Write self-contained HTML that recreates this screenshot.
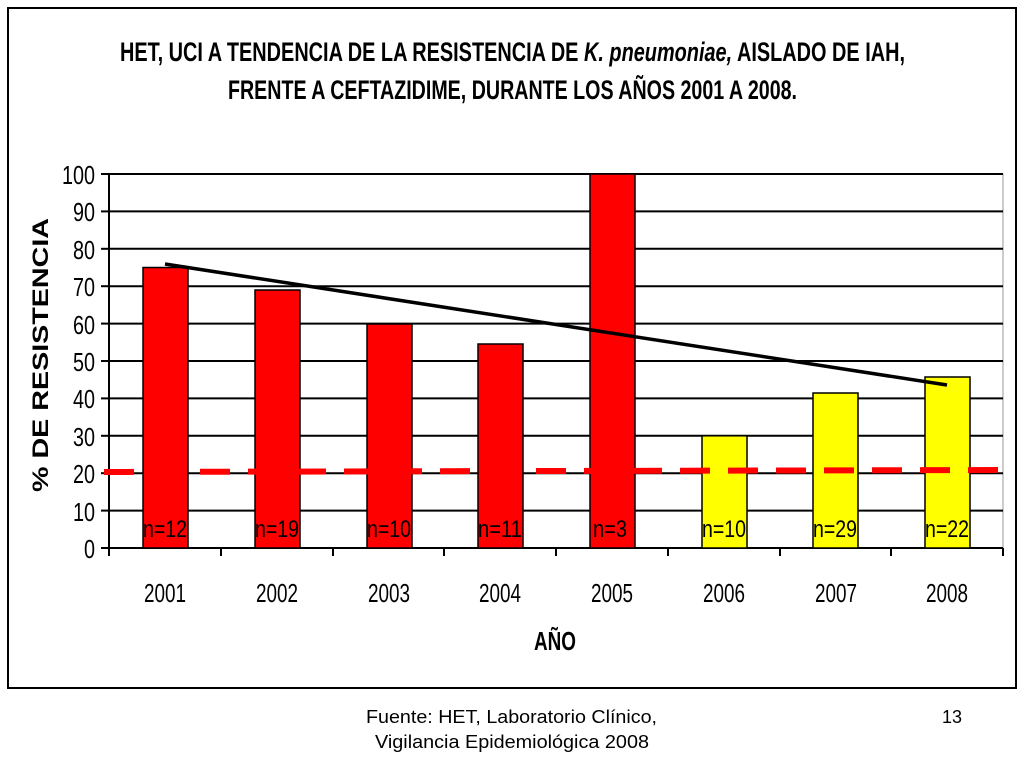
<!DOCTYPE html>
<html><head><meta charset="utf-8"><style>
body{margin:0;background:#fff;}
svg{display:block}
</style></head><body>
<svg width="1024" height="768" xmlns="http://www.w3.org/2000/svg" font-family="'Liberation Sans',sans-serif">
<rect x="8" y="8" width="1008" height="680" fill="#fff" stroke="#000" stroke-width="2"/>
<text x="120" y="61" font-size="27" font-weight="bold" textLength="785" lengthAdjust="spacingAndGlyphs">HET, UCI A TENDENCIA DE LA RESISTENCIA DE <tspan font-style="italic">K. pneumoniae,</tspan>  AISLADO DE IAH,</text>
<text x="228" y="99" font-size="27" font-weight="bold" textLength="569" lengthAdjust="spacingAndGlyphs">FRENTE A CEFTAZIDIME, DURANTE LOS AÑOS 2001 A 2008.</text>
<rect x="109" y="174" width="894" height="374" fill="#fff" stroke="#999" stroke-width="1"/>
<g stroke="#000" stroke-width="2">
<line x1="109" y1="174" x2="1003" y2="174"/><line x1="109" y1="211.4" x2="1003" y2="211.4"/>
<line x1="109" y1="248.8" x2="1003" y2="248.8"/><line x1="109" y1="286.2" x2="1003" y2="286.2"/>
<line x1="109" y1="323.6" x2="1003" y2="323.6"/><line x1="109" y1="361" x2="1003" y2="361"/>
<line x1="109" y1="398.4" x2="1003" y2="398.4"/><line x1="109" y1="435.8" x2="1003" y2="435.8"/>
<line x1="109" y1="473.2" x2="1003" y2="473.2"/><line x1="109" y1="510.6" x2="1003" y2="510.6"/>
<line x1="109" y1="174" x2="109" y2="548"/><line x1="101" y1="548" x2="1003" y2="548"/>
</g>
<g stroke="#000" stroke-width="2">
<line x1="101" y1="174" x2="109" y2="174"/><line x1="101" y1="211.4" x2="109" y2="211.4"/><line x1="101" y1="248.8" x2="109" y2="248.8"/><line x1="101" y1="286.2" x2="109" y2="286.2"/><line x1="101" y1="323.6" x2="109" y2="323.6"/><line x1="101" y1="361" x2="109" y2="361"/><line x1="101" y1="398.4" x2="109" y2="398.4"/><line x1="101" y1="435.8" x2="109" y2="435.8"/><line x1="101" y1="473.2" x2="109" y2="473.2"/><line x1="101" y1="510.6" x2="109" y2="510.6"/>
<line x1="109" y1="548" x2="109" y2="556"/><line x1="221" y1="548" x2="221" y2="556"/><line x1="333" y1="548" x2="333" y2="556"/><line x1="444" y1="548" x2="444" y2="556"/><line x1="556" y1="548" x2="556" y2="556"/><line x1="668" y1="548" x2="668" y2="556"/><line x1="780" y1="548" x2="780" y2="556"/><line x1="891" y1="548" x2="891" y2="556"/><line x1="1003" y1="548" x2="1003" y2="556"/>
</g>
<g font-size="26" text-anchor="end">
<text x="95" y="184" textLength="33" lengthAdjust="spacingAndGlyphs">100</text><text x="95" y="221" textLength="22" lengthAdjust="spacingAndGlyphs">90</text><text x="95" y="259" textLength="22" lengthAdjust="spacingAndGlyphs">80</text><text x="95" y="296" textLength="22" lengthAdjust="spacingAndGlyphs">70</text><text x="95" y="334" textLength="22" lengthAdjust="spacingAndGlyphs">60</text><text x="95" y="371" textLength="22" lengthAdjust="spacingAndGlyphs">50</text><text x="95" y="408" textLength="22" lengthAdjust="spacingAndGlyphs">40</text><text x="95" y="446" textLength="22" lengthAdjust="spacingAndGlyphs">30</text><text x="95" y="483" textLength="22" lengthAdjust="spacingAndGlyphs">20</text><text x="95" y="521" textLength="22" lengthAdjust="spacingAndGlyphs">10</text><text x="95" y="558" textLength="11" lengthAdjust="spacingAndGlyphs">0</text>
</g>
<g stroke="#000" stroke-width="1.5">
<rect x="143" y="267.5" width="45" height="280.5" fill="#f00"/>
<rect x="255" y="290" width="45" height="258" fill="#f00"/>
<rect x="367" y="324" width="45" height="224" fill="#f00"/>
<rect x="478" y="344" width="45" height="204" fill="#f00"/>
<rect x="590" y="174" width="45" height="374" fill="#f00"/>
<rect x="702" y="435.8" width="45" height="112.2" fill="#ff0"/>
<rect x="813" y="393" width="45" height="155" fill="#ff0"/>
<rect x="925" y="377" width="45" height="171" fill="#ff0"/>
</g>
<line x1="104" y1="472" x2="1003" y2="470" stroke="#f00" stroke-width="6" stroke-dasharray="30,18"/>
<line x1="165" y1="264" x2="947" y2="385" stroke="#000" stroke-width="3.5"/>
<g font-size="24">
<text x="143" y="537" textLength="44" lengthAdjust="spacingAndGlyphs">n=12</text><text x="255" y="537" textLength="44" lengthAdjust="spacingAndGlyphs">n=19</text><text x="367" y="537" textLength="44" lengthAdjust="spacingAndGlyphs">n=10</text><text x="478" y="537" textLength="44" lengthAdjust="spacingAndGlyphs">n=11</text><text x="593" y="537" textLength="34" lengthAdjust="spacingAndGlyphs">n=3</text><text x="702" y="537" textLength="44" lengthAdjust="spacingAndGlyphs">n=10</text><text x="813" y="537" textLength="44" lengthAdjust="spacingAndGlyphs">n=29</text><text x="925" y="537" textLength="44" lengthAdjust="spacingAndGlyphs">n=22</text>
</g>
<g font-size="26">
<text x="144" y="602" textLength="42" lengthAdjust="spacingAndGlyphs">2001</text><text x="256" y="602" textLength="42" lengthAdjust="spacingAndGlyphs">2002</text><text x="368" y="602" textLength="42" lengthAdjust="spacingAndGlyphs">2003</text><text x="479" y="602" textLength="42" lengthAdjust="spacingAndGlyphs">2004</text><text x="591" y="602" textLength="42" lengthAdjust="spacingAndGlyphs">2005</text><text x="703" y="602" textLength="42" lengthAdjust="spacingAndGlyphs">2006</text><text x="815" y="602" textLength="42" lengthAdjust="spacingAndGlyphs">2007</text><text x="926" y="602" textLength="42" lengthAdjust="spacingAndGlyphs">2008</text>
</g>
<text x="534" y="650" font-size="26" font-weight="bold" textLength="42" lengthAdjust="spacingAndGlyphs">AÑO</text>
<text transform="translate(48,492) rotate(-90)" font-size="22" font-weight="bold" textLength="274" lengthAdjust="spacingAndGlyphs">% DE RESISTENCIA</text>
<g font-size="18">
<text x="366" y="723" textLength="291" lengthAdjust="spacingAndGlyphs">Fuente: HET, Laboratorio Clínico,</text>
<text x="375" y="748" textLength="274" lengthAdjust="spacingAndGlyphs">Vigilancia Epidemiológica 2008</text>
<text x="942" y="723" textLength="20" lengthAdjust="spacingAndGlyphs">13</text>
</g>
</svg>
</body></html>
